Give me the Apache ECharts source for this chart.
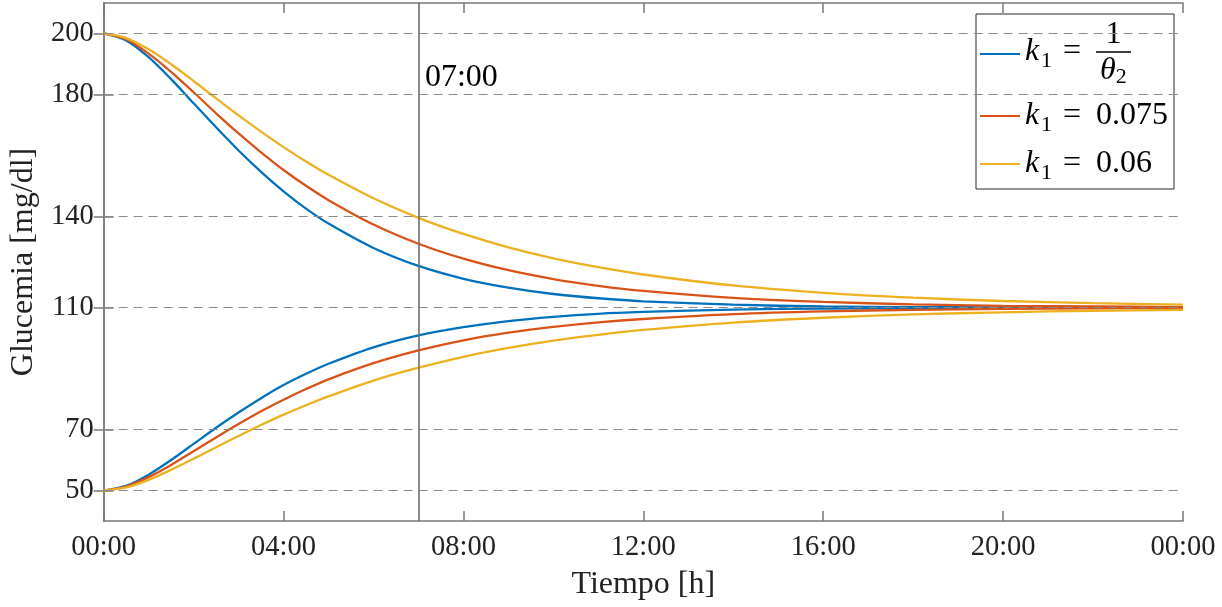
<!DOCTYPE html>
<html>
<head>
<meta charset="utf-8">
<title>Glucemia</title>
<script src="https://cdn.jsdelivr.net/npm/echarts@6/dist/echarts.min.js"></script>
<style>
  html, body { margin: 0; padding: 0; background: #fff; }
  #chart { width: 1222px; height: 607px; }
</style>
</head>
<body>
<div id="chart"></div>
<script>
// time in hours
var hours = [0, 0.5, 1, 1.5, 2, 2.5, 3, 3.5, 4, 4.5, 5, 6, 7, 8, 9, 10, 11, 12, 14, 16, 18, 20, 22, 24];

// k1 = 1/theta2
var blueHigh = [200, 197.7, 192.2, 185.0, 177.1, 169.2, 161.6, 154.6, 148.2, 142.5, 137.6, 129.6, 123.7, 119.5, 116.6, 114.5, 113.1, 112.1, 111.0, 110.4, 110.2, 110.1, 110.0, 110.0];
var blueLow = [50, 51.5, 55.2, 60.0, 65.3, 70.6, 75.6, 80.3, 84.6, 88.3, 91.6, 97.0, 100.9, 103.6, 105.6, 107.0, 108.0, 108.6, 109.4, 109.7, 109.9, 109.9, 110.0, 110.0];
// k1 = 0.075
var redHigh = [200, 198.1, 193.4, 187.4, 180.7, 173.8, 167.2, 161.0, 155.2, 150.0, 145.3, 137.3, 131.0, 126.1, 122.3, 119.4, 117.2, 115.5, 113.2, 111.9, 111.1, 110.6, 110.4, 110.2];
var redLow = [50, 51.3, 54.4, 58.4, 62.9, 67.4, 71.8, 76.0, 79.8, 83.3, 86.5, 91.8, 96.0, 99.3, 101.8, 103.7, 105.2, 106.3, 107.9, 108.8, 109.3, 109.6, 109.8, 109.9];
// k1 = 0.06
var yellowHigh = [200, 198.5, 194.8, 189.9, 184.4, 178.7, 173.1, 167.8, 162.7, 158.0, 153.6, 145.9, 139.5, 134.2, 129.8, 126.2, 123.3, 120.9, 117.3, 114.9, 113.3, 112.2, 111.5, 111.0];
var yellowLow = [50, 51.0, 53.5, 56.8, 60.4, 64.2, 67.9, 71.5, 74.9, 78.0, 80.9, 86.1, 90.3, 93.9, 96.8, 99.2, 101.1, 102.7, 105.1, 106.7, 107.8, 108.5, 109.0, 109.3];

var yTicks = [50, 70, 110, 140, 180, 200];
var xTickLabels = ["00:00", "04:00", "08:00", "12:00", "16:00", "20:00", "00:00"];
var seriesNames = ["k1 = 1/theta2", "k1 = 0.075", "k1 = 0.06"];
var seriesColors = ["#0072BD", "#D95319", "#EDB120"];
var markTime = 7;
var markText = "07:00";
var markTextY = 185.5;

var FONT = "'Liberation Serif', 'DejaVu Serif', serif";
var TXT = "#222";
var AX = "#7a7a7a";

function pairs(arr) {
  return hours.map(function (h, i) { return [h, arr[i]]; });
}

function curve(name, color, arr) {
  return {
    name: name,
    type: "line",
    data: pairs(arr),
    showSymbol: false,
    symbol: "none",
    smooth: 0.3,
    lineStyle: { color: color, width: 2.3 },
    itemStyle: { color: color },
    z: 2
  };
}

var legendText = [
  "{pn| }{nf|1}\n{kf|k}{sf|1}{ef| = }{bar| }\n{pd| }{th|θ}{s2|2}",
  "{k|k}{s|1}{e| = }{t|0.075}",
  "{k|k}{s|1}{e| = }{t|0.06}"
];

var chart = echarts.init(document.getElementById("chart"));

var option = {
  animation: false,
  backgroundColor: "#fff",
  textStyle: { fontFamily: FONT },
  grid: { left: 103, right: 39, top: 3, bottom: 86 },
  legend: {
    data: seriesNames,
    orient: "vertical",
    left: 976,
    top: 14,
    padding: [5, 6, 5, 4],
    itemGap: 8,
    itemWidth: 40,
    itemHeight: 2.2,
    icon: "rect",
    backgroundColor: "#fff",
    borderColor: "#262626",
    borderWidth: 1,
    selectedMode: false,
    formatter: function (name) {
      return legendText[seriesNames.indexOf(name)];
    },
    textStyle: {
      fontFamily: FONT,
      color: "#000",
      fontSize: 32,
      rich: {
        k: { fontFamily: FONT, fontSize: 32, fontStyle: "italic", width: 16, lineHeight: 32, color: "#000" },
        s: { fontFamily: FONT, fontSize: 22, width: 14, lineHeight: 8, padding: [18, 0, 0, 0], color: "#000" },
        e: { fontFamily: FONT, fontSize: 32, width: 41, lineHeight: 32, color: "#000" },
        t: { fontFamily: FONT, fontSize: 32, lineHeight: 32, color: "#000" },
        pn: { fontSize: 10, width: 80.5, lineHeight: 26 },
        nf: { fontFamily: FONT, fontSize: 32, lineHeight: 26, color: "#000" },
        kf: { fontFamily: FONT, fontSize: 32, fontStyle: "italic", width: 16, lineHeight: 8, color: "#000" },
        sf: { fontFamily: FONT, fontSize: 22, width: 14, lineHeight: 8, padding: [18, 0, 0, 0], color: "#000" },
        ef: { fontFamily: FONT, fontSize: 32, width: 41, lineHeight: 8, color: "#000" },
        bar: { fontSize: 10, width: 35, height: 1.6, lineHeight: 8, backgroundColor: "#000" },
        pd: { fontSize: 10, width: 75, lineHeight: 30 },
        th: { fontFamily: FONT, fontSize: 32, fontStyle: "italic", lineHeight: 30, color: "#000" },
        s2: { fontFamily: FONT, fontSize: 22, lineHeight: 8, padding: [12, 0, 0, 0], color: "#000" }
      }
    }
  },
  xAxis: [
    {
      type: "value",
      min: 0,
      max: 24,
      interval: 4,
      name: "Tiempo [h]",
      nameLocation: "middle",
      nameGap: 48,
      nameTextStyle: { fontFamily: FONT, fontSize: 32, color: TXT },
      axisLine: { show: true, lineStyle: { color: AX, width: 1.5 } },
      axisTick: { show: true, inside: true, length: 10, lineStyle: { color: AX, width: 1.5 } },
      axisLabel: {
        fontFamily: FONT, fontSize: 28.5, color: TXT, margin: 12,
        formatter: function (v) { return xTickLabels[Math.round(v / 4)]; }
      },
      splitLine: { show: false }
    },
    {
      type: "value",
      position: "top",
      min: 0,
      max: 24,
      interval: 4,
      axisLine: { show: true, lineStyle: { color: AX, width: 1.5 } },
      axisTick: { show: true, inside: true, length: 10, lineStyle: { color: AX, width: 1.5 } },
      axisLabel: { show: false },
      splitLine: { show: false }
    }
  ],
  yAxis: [
    {
      type: "value",
      min: 40,
      max: 210,
      name: "Glucemia [mg/dl]",
      nameLocation: "middle",
      nameGap: 46,
      nameTextStyle: { fontFamily: FONT, fontSize: 32, color: TXT },
      axisLine: { show: true, lineStyle: { color: AX, width: 1.5 } },
      axisTick: { show: true, inside: true, length: 10, customValues: yTicks, lineStyle: { color: AX, width: 1.5 } },
      axisLabel: { fontFamily: FONT, fontSize: 28.5, color: TXT, margin: 10, customValues: yTicks },
      splitLine: { show: false }
    },
    {
      type: "value",
      position: "right",
      min: 40,
      max: 210,
      axisLine: { show: true, lineStyle: { color: AX, width: 1.5 } },
      axisTick: { show: true, inside: true, length: 10, customValues: yTicks, lineStyle: { color: AX, width: 1.5 } },
      axisLabel: { show: false, customValues: yTicks },
      splitLine: { show: false }
    }
  ],
  series: [
    curve(seriesNames[0], seriesColors[0], blueHigh),
    curve(seriesNames[0], seriesColors[0], blueLow),
    curve(seriesNames[1], seriesColors[1], redHigh),
    curve(seriesNames[1], seriesColors[1], redLow),
    curve(seriesNames[2], seriesColors[2], yellowHigh),
    curve(seriesNames[2], seriesColors[2], yellowLow),
    {
      name: "guides",
      type: "line",
      data: [],
      z: 5,
      silent: true,
      markLine: {
        silent: true,
        symbol: "none",
        animation: false,
        label: { show: false },
        data: yTicks.map(function (v) {
          return { yAxis: v, lineStyle: { color: "#8a8a8a", width: 1, type: [9, 6] } };
        }).concat([
          { xAxis: markTime, lineStyle: { color: "#6e6e6e", width: 1.6, type: "solid" } }
        ])
      },
      markPoint: {
        silent: true,
        animation: false,
        symbol: "circle",
        symbolSize: 1,
        itemStyle: { color: "rgba(0,0,0,0)" },
        data: [{
          coord: [markTime, markTextY],
          label: {
            show: true, position: "right", distance: 6,
            formatter: markText, fontFamily: FONT, fontSize: 32, color: "#000"
          }
        }]
      }
    }
  ]
};

chart.setOption(option);
</script>
</body>
</html>
